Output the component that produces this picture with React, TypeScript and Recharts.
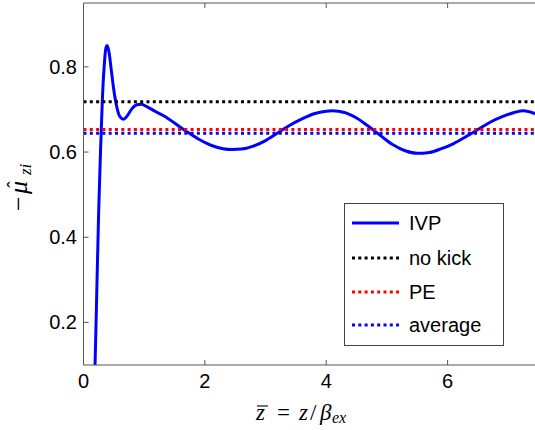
import React from "react";
import { LineChart, Line, XAxis, YAxis } from "recharts";

const ivpX = [0.185, 0.19, 0.22, 0.25, 0.28, 0.31, 0.34, 0.37, 0.39, 0.42, 0.46, 0.5, 0.55, 0.6, 0.66, 0.72, 0.8, 0.88, 0.95, 1.05, 1.2, 1.35, 1.5, 1.7, 1.9, 2.1, 2.3, 2.45, 2.6, 2.8, 3.0, 3.2, 3.4, 3.6, 3.8, 4.0, 4.1, 4.3, 4.5, 4.7, 4.9, 5.1, 5.3, 5.5, 5.7, 5.9, 6.1, 6.3, 6.5, 6.7, 6.9, 7.1, 7.25, 7.44];
const ivpY = [0.08, 0.1, 0.28, 0.46, 0.6, 0.72, 0.8, 0.845, 0.85, 0.835, 0.79, 0.745, 0.705, 0.683, 0.677, 0.685, 0.702, 0.711, 0.712, 0.706, 0.694, 0.683, 0.668, 0.648, 0.63, 0.616, 0.608, 0.606, 0.607, 0.614, 0.627, 0.645, 0.663, 0.678, 0.69, 0.696, 0.697, 0.693, 0.68, 0.66, 0.638, 0.617, 0.603, 0.597, 0.599, 0.608, 0.62, 0.636, 0.653, 0.67, 0.683, 0.693, 0.697, 0.69];

const xMin = 0;
const xMax = 7.44;
const yMin = 0.1;
const yMax = 0.95;
const xTicks = [0, 2, 4, 6];
const yTicks = [0.2, 0.4, 0.6, 0.8];

const noKickValue = 0.718;
const peValue = 0.653;
const averageValue = 0.644;

const seriesNames = ["IVP", "no kick", "PE", "average"];
const seriesColors = ["#0000ff", "#000000", "#ff0000", "#0000ff"];

const ivpData = ivpX.map((x, i) => ({ x, y: ivpY[i] }));
const flat = (v: number) => [
  { x: xMin, y: v },
  { x: xMax, y: v },
];

const AX = "#555";
const FONT = "'Liberation Sans', Arial, Helvetica, sans-serif";
const SERIF = "'Liberation Serif', 'DejaVu Serif', serif";
const PLOT_BOTTOM = 365;
const PLOT_TOP = 3;
const PLOT_LEFT = 83.5;

const XTick = (props: any) => {
  const { x, payload } = props;
  return (
    <g>
      <line x1={x} x2={x} y1={PLOT_BOTTOM} y2={PLOT_BOTTOM - 5} stroke={AX} />
      <text x={x} y={388} textAnchor="middle" fontSize={20} fontFamily={FONT} fill="#000">
        {payload.value}
      </text>
    </g>
  );
};

const TopTick = (props: any) => {
  const { x } = props;
  return <line x1={x} x2={x} y1={PLOT_TOP} y2={PLOT_TOP + 5} stroke={AX} />;
};

const YTick = (props: any) => {
  const { y, payload } = props;
  return (
    <g>
      <line x1={PLOT_LEFT} x2={PLOT_LEFT + 5} y1={y} y2={y} stroke={AX} />
      <text x={77} y={y + 7} textAnchor="end" fontSize={20} fontFamily={FONT} fill="#000">
        {payload.value.toFixed(1)}
      </text>
    </g>
  );
};

const XLabel = () => (
  <g fontFamily={SERIF} fill="#000">
    <text x={256} y={420} fontSize={23} fontStyle="italic">z</text>
    <line x1={257} x2={268} y1={406} y2={406} stroke="#000" strokeWidth={1.1} />
    <text x={277} y={420} fontSize={23}>=</text>
    <text x={299} y={420} fontSize={23} fontStyle="italic">z</text>
    <text x={310} y={420} fontSize={23}>/</text>
    <text x={320} y={420} fontSize={23} fontStyle="italic">β</text>
    <text x={332} y={423} fontSize={16} fontStyle="italic">ex</text>
  </g>
);

const YLabel = () => (
  <g transform="translate(27,211) rotate(-90)" fontFamily={SERIF} fill="#000">
    <text x={0} y={0} fontSize={26}>−</text>
    <text x={17} y={0} fontSize={26} fontStyle="italic">μ</text>
    <text x={23} y={-5} fontSize={20}>ˆ</text>
    <text x={36} y={4} fontSize={17} fontStyle="italic">zi</text>
  </g>
);

const LegendBox = () => {
  const rows = [20, 55, 89, 122];
  return (
    <svg width={160} height={143} style={{ position: "absolute", left: 344, top: 203 }}>
      <rect x={0.5} y={0.5} width={159} height={142} fill="#fff" stroke="#444" strokeWidth={1} />
      {seriesNames.map((name, i) => (
        <g key={name}>
          <line
            x1={8}
            x2={55}
            y1={rows[i]}
            y2={rows[i]}
            stroke={seriesColors[i]}
            strokeWidth={3}
            strokeDasharray={i === 0 ? undefined : "3 3.3"}
          />
          <text x={65} y={rows[i] + 7} fontSize={20} fontFamily={FONT} fill="#000">
            {name}
          </text>
        </g>
      ))}
    </svg>
  );
};

export default function App() {
  return (
    <div style={{ position: "absolute", left: 0, top: 0, width: 535, height: 430, background: "#fff" }}>
      <LineChart width={535} height={430} margin={{ top: 0, right: 0, bottom: 0, left: 0 }}>
        <XAxis
          type="number"
          dataKey="x"
          domain={[xMin, xMax]}
          ticks={xTicks}
          allowDataOverflow
          axisLine={{ stroke: AX }}
          tickLine={false}
          tick={<XTick />}
          height={430 - PLOT_BOTTOM}
        />
        <XAxis
          xAxisId="top"
          orientation="top"
          type="number"
          dataKey="x"
          domain={[xMin, xMax]}
          ticks={xTicks}
          allowDataOverflow
          axisLine={{ stroke: AX }}
          tickLine={false}
          tick={<TopTick />}
          height={PLOT_TOP}
        />
        <YAxis
          type="number"
          domain={[yMin, yMax]}
          ticks={yTicks}
          allowDataOverflow
          axisLine={{ stroke: AX }}
          tickLine={false}
          tick={<YTick />}
          width={PLOT_LEFT}
        />
        <Line
          data={ivpData}
          dataKey="y"
          type="monotone"
          stroke={seriesColors[0]}
          strokeWidth={3}
          dot={false}
          isAnimationActive={false}
        />
        <Line
          data={flat(noKickValue)}
          dataKey="y"
          stroke={seriesColors[1]}
          strokeWidth={3}
          strokeDasharray="3 3.3"
          dot={false}
          isAnimationActive={false}
        />
        <Line
          data={flat(peValue)}
          dataKey="y"
          stroke={seriesColors[2]}
          strokeWidth={3}
          strokeDasharray="3 3.3"
          dot={false}
          isAnimationActive={false}
        />
        <Line
          data={flat(averageValue)}
          dataKey="y"
          stroke={seriesColors[3]}
          strokeWidth={3}
          strokeDasharray="3 3.3"
          dot={false}
          isAnimationActive={false}
        />
        <XLabel />
        <YLabel />
      </LineChart>
      <LegendBox />
    </div>
  );
}
